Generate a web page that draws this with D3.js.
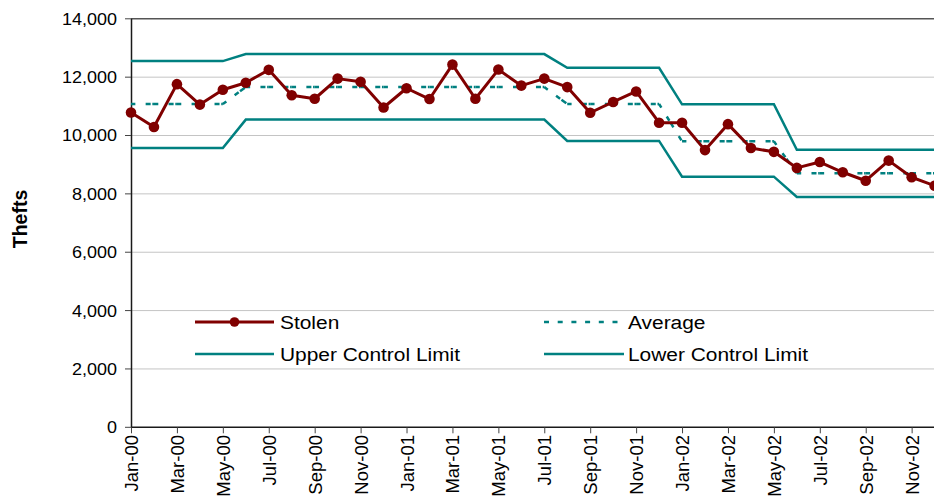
<!DOCTYPE html>
<html><head><meta charset="utf-8">
<script src="https://cdn.jsdelivr.net/npm/d3@7"></script>
<style>
body{margin:0;background:#fff;}
svg{display:block;}
text{font-family:"Liberation Sans",Arial,sans-serif;fill:#000;}
</style>
</head><body>
<svg id="c" width="934" height="499"></svg>
<script>
const months = ["Jan-00","Feb-00","Mar-00","Apr-00","May-00","Jun-00","Jul-00","Aug-00","Sep-00","Oct-00","Nov-00","Dec-00",
  "Jan-01","Feb-01","Mar-01","Apr-01","May-01","Jun-01","Jul-01","Aug-01","Sep-01","Oct-01","Nov-01","Dec-01",
  "Jan-02","Feb-02","Mar-02","Apr-02","May-02","Jun-02","Jul-02","Aug-02","Sep-02","Oct-02","Nov-02","Dec-02"];
const stolen = [10790,10290,11760,11060,11570,11810,12250,11380,11260,11950,11840,10960,
  11620,11250,12430,11260,12260,11710,11950,11660,10780,11150,11510,10440,
  10440,9500,10390,9570,9440,8890,9090,8740,8450,9140,8570,8280];
const average = [11080,11080,11080,11080,11080,11660,11660,11660,11660,11660,11660,11660,
  11660,11660,11660,11660,11660,11660,11660,11080,11080,11080,11080,11080,
  9800,9800,9800,9800,9800,8710,8710,8710,8710,8710,8710,8710];
const upperLimit = [12550,12550,12550,12550,12550,12790,12790,12790,12790,12790,12790,12790,
  12790,12790,12790,12790,12790,12790,12790,12320,12320,12320,12320,12320,
  11070,11070,11070,11070,11070,9510,9510,9510,9510,9510,9510,9510];
const lowerLimit = [9575,9575,9575,9575,9575,10545,10545,10545,10545,10545,10545,10545,
  10545,10545,10545,10545,10545,10545,10545,9815,9815,9815,9815,9815,
  8590,8590,8590,8590,8590,7895,7895,7895,7895,7895,7895,7895];
const yTicks = [0,2000,4000,6000,8000,10000,12000,14000];
const xTickLabels = ["Jan-00","Mar-00","May-00","Jul-00","Sep-00","Nov-00","Jan-01","Mar-01","May-01",
  "Jul-01","Sep-01","Nov-01","Jan-02","Mar-02","May-02","Jul-02","Sep-02","Nov-02"];
const seriesNames = ["Stolen","Average","Upper Control Limit","Lower Control Limit"];
const yTitle = "Thefts";

const RED = "#800000", TEAL = "#008080";
const svg = d3.select("#c");
const x0 = 131, step = 22.96;
const x = d3.scalePoint().domain(months).range([x0, x0 + step*(months.length-1)]);
const y = d3.scaleLinear().domain([0,14000]).range([427.3, 18.8]);
const right = 934;

// gridlines
svg.append("g").selectAll("line").data(yTicks.filter(d=>d>0)).join("line")
  .attr("x1", x0).attr("x2", right)
  .attr("y1", d=>y(d)).attr("y2", d=>y(d))
  .attr("stroke", d=> d===14000 ? "#555" : "#c4c4c4")
  .attr("stroke-width", d=> d===14000 ? 1.5 : 1);

// y axis
const ya = svg.append("g");
ya.append("line").attr("x1", x0+0.5).attr("x2", x0+0.5).attr("y1", y(0)).attr("y2", y(14000))
  .attr("stroke","#1a1a1a").attr("stroke-width",1.5);
ya.selectAll("line.t").data(yTicks).join("line").attr("class","t")
  .attr("x1", x0-6).attr("x2", x0).attr("y1", d=>y(d)).attr("y2", d=>y(d))
  .attr("stroke","#444").attr("stroke-width",1);
ya.selectAll("text").data(yTicks).join("text")
  .attr("transform", d=>`translate(117,${y(d)}) scale(1.06,1)`)
  .attr("text-anchor","end").attr("dy","0.35em").attr("font-size",17)
  .text(d=>d3.format(",")(d));

// x axis
const xa = svg.append("g");
xa.append("line").attr("x1", x0).attr("x2", right).attr("y1", y(0)).attr("y2", y(0))
  .attr("stroke","#1a1a1a").attr("stroke-width",1.5);
xa.selectAll("line.t").data(xTickLabels).join("line").attr("class","t")
  .attr("x1", d=>x(d)+0.5).attr("x2", d=>x(d)+0.5).attr("y1", y(0)).attr("y2", y(0)+6)
  .attr("stroke","#444").attr("stroke-width",1);
xa.selectAll("text").data(xTickLabels).join("text")
  .attr("transform", d=>`translate(${x(d)+0.5},435) rotate(-90)`)
  .attr("text-anchor","end").attr("dy","0.35em").attr("font-size",18.5)
  .text(d=>d);

// y title
svg.append("text").attr("transform","translate(20,219) rotate(-90)")
  .attr("text-anchor","middle").attr("dy","0.35em")
  .attr("font-size",19.5).attr("font-weight","bold").text(yTitle);

const line = d3.line().x((d,i)=>x(months[i])).y(d=>y(d));

// control limits
[upperLimit, lowerLimit].forEach(arr=>{
  svg.append("path").attr("d", line(arr)).attr("fill","none")
    .attr("stroke",TEAL).attr("stroke-width",2.5);
});

// average, per segment dash restart
const avgPts = average.map((v,i)=>[x(months[i]), y(v)]);
svg.append("g").selectAll("line").data(d3.pairs(avgPts)).join("line")
  .attr("x1", d=>d[0][0]).attr("y1", d=>d[0][1])
  .attr("x2", d=>d[1][0]).attr("y2", d=>d[1][1])
  .attr("stroke",TEAL).attr("stroke-width",2.5)
  .attr("stroke-dasharray","5,1.7,6,10.3").attr("stroke-dashoffset",8.35);

// stolen
svg.append("path").attr("d", line(stolen)).attr("fill","none")
  .attr("stroke",RED).attr("stroke-width",3).attr("stroke-linejoin","round");
svg.append("g").selectAll("circle").data(stolen).join("circle")
  .attr("cx",(d,i)=>x(months[i])).attr("cy", d=>y(d)).attr("r",5.3).attr("fill",RED);

// legend
const lg = svg.append("g");
const items = [
  {name:seriesNames[0], x1:195, x2:274, tx:280, yy:322, type:"marker"},
  {name:seriesNames[1], x1:544, x2:624, tx:628, yy:322, type:"dash"},
  {name:seriesNames[2], x1:195, x2:274, tx:280, yy:354, type:"solid"},
  {name:seriesNames[3], x1:544, x2:624, tx:628, yy:354, type:"solid"}
];
items.forEach(it=>{
  const l = lg.append("line").attr("x1",it.x1).attr("x2",it.x2).attr("y1",it.yy).attr("y2",it.yy)
    .attr("stroke", it.type==="marker"?RED:TEAL).attr("stroke-width", it.type==="marker"?3:2.5);
  if(it.type==="dash") l.attr("stroke-dasharray","5,8.7");
  if(it.type==="marker") lg.append("circle").attr("cx",(it.x1+it.x2)/2).attr("cy",it.yy).attr("r",4.8).attr("fill",RED);
  lg.append("text").attr("transform",`translate(${it.tx},${it.yy}) scale(1.1,1)`)
    .attr("dy","0.35em").attr("font-size",19).text(it.name);
});
</script>
</body></html>
